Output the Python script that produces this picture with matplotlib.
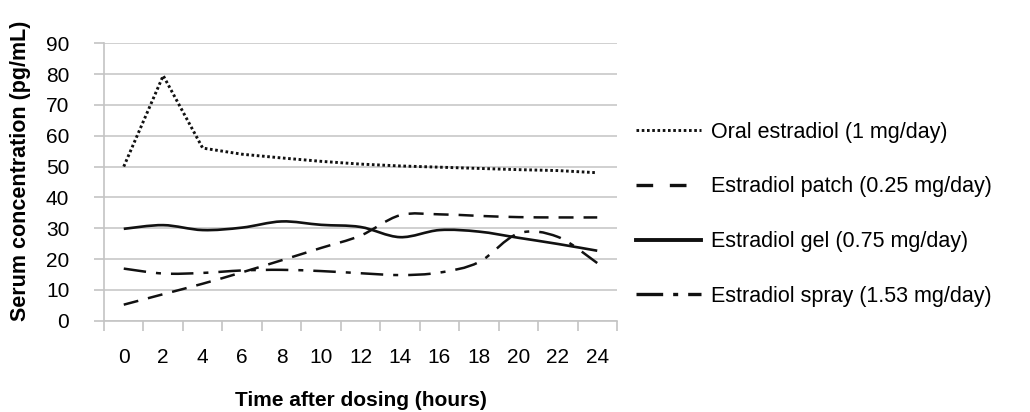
import matplotlib
matplotlib.use("Agg")
import matplotlib.pyplot as plt
import numpy as np
from matplotlib.path import Path
from matplotlib.patches import PathPatch
from matplotlib.lines import Line2D

plt.rcParams['font.family'] = ['Liberation Sans', 'DejaVu Sans']

hours = ["0", "2", "4", "6", "8", "10", "12", "14", "16", "18", "20", "22", "24"]
oral = [50, 79.5, 56, 54, 52.8, 51.7, 50.8, 50.2, 49.8, 49.4, 49.0, 48.7, 48.0]
patch = [5.2, 8.6, 12.0, 15.7, 19.6, 23.6, 27.6, 34.2, 34.5, 34.0, 33.6, 33.5, 33.5]
gel = [29.8, 31.0, 29.4, 30.2, 32.2, 31.1, 30.4, 27.1, 29.4, 28.9, 26.9, 24.9, 22.7]
spray = [16.9, 15.3, 15.5, 16.3, 16.5, 16.1, 15.4, 14.8, 15.6, 19.0, 28.3, 27.2, 18.7]

labels = ["Oral estradiol (1 mg/day)", "Estradiol patch (0.25 mg/day)",
          "Estradiol gel (0.75 mg/day)", "Estradiol spray (1.53 mg/day)"]

INK = "#111111"
GRID = "#c4c4c4"


def smooth_path(ys):
    # Excel-like smoothed line: cubic Bezier segments with Catmull-Rom control points
    pts = np.column_stack([np.arange(len(ys), dtype=float), np.asarray(ys, dtype=float)])
    verts = [pts[0]]
    codes = [Path.MOVETO]
    n = len(pts)
    for i in range(n - 1):
        p0 = pts[max(i - 1, 0)]
        p1 = pts[i]
        p2 = pts[i + 1]
        p3 = pts[min(i + 2, n - 1)]
        c1 = p1 + (p2 - p0) / 6.0
        c2 = p2 - (p3 - p1) / 6.0
        verts += [c1, c2, p2]
        codes += [Path.CURVE4] * 3
    return Path(verts, codes)


fig = plt.figure(figsize=(10.3, 4.12), dpi=100)
ax = fig.add_axes([0.101, 0.2216, 0.498, 0.6734])

x = np.arange(len(hours))
styles = {
    "oral": dict(linestyle=(0, (0.9, 0.9)), lw=2.1),
    "patch": dict(linestyle=(0, (6, 4)), lw=1.8),
    "gel": dict(linestyle="-", lw=1.9),
    "spray": dict(linestyle=(0, (9, 4, 2, 4)), lw=1.8),
}

ax.plot(x, oral, color=INK, **styles["oral"])
for ys, key in [(patch, "patch"), (gel, "gel"), (spray, "spray")]:
    pp = PathPatch(smooth_path(ys), facecolor="none", edgecolor=INK,
                   linestyle=styles[key]["linestyle"], lw=styles[key]["lw"],
                   capstyle="butt")
    ax.add_patch(pp)

ax.set_xlim(-0.5, len(hours) - 0.5)
ax.set_ylim(0, 90)
ax.set_yticks(np.arange(0, 91, 10))
ax.set_xticks(x)
ax.set_xticklabels(hours)
ax.set_xticks(np.arange(-0.5, len(hours), 1.0), minor=True)
ax.tick_params(axis="x", which="major", length=0, pad=20, labelsize=15)
ax.tick_params(axis="x", which="minor", length=7, color=GRID, width=1.2)
ax.tick_params(axis="y", length=7, color=GRID, width=1.2, pad=18, labelsize=15)
ax.grid(axis="y", color=GRID, lw=1.1)
ax.set_axisbelow(True)
for s in ["top", "right"]:
    ax.spines[s].set_visible(False)
for s in ["left", "bottom"]:
    ax.spines[s].set_color(GRID)
    ax.spines[s].set_linewidth(1.2)

fig.text(0.35, 0.028, "Time after dosing (hours)", ha="center", va="center",
         fontsize=15, fontweight="bold")
fig.text(0.02, 0.585, "Serum concentration (pg/mL)", ha="center", va="center",
         rotation=90, fontsize=15.5, fontweight="bold")

handles = [Line2D([], [], color=INK, **styles["oral"]),
           Line2D([], [], color=INK, linestyle=(0, (5, 5)), lw=2.4),
           Line2D([], [], color=INK, linestyle="-", lw=2.8),
           Line2D([], [], color=INK, linestyle=(0, (8, 3, 1.5, 3)), lw=2.4)]
fig.legend(handles, labels, loc="center left", bbox_to_anchor=(0.599, 0.48),
           frameon=False, fontsize=15.5, handlelength=3.0, handletextpad=0.45,
           labelspacing=1.57)

fig.savefig("out.png", dpi=100)
